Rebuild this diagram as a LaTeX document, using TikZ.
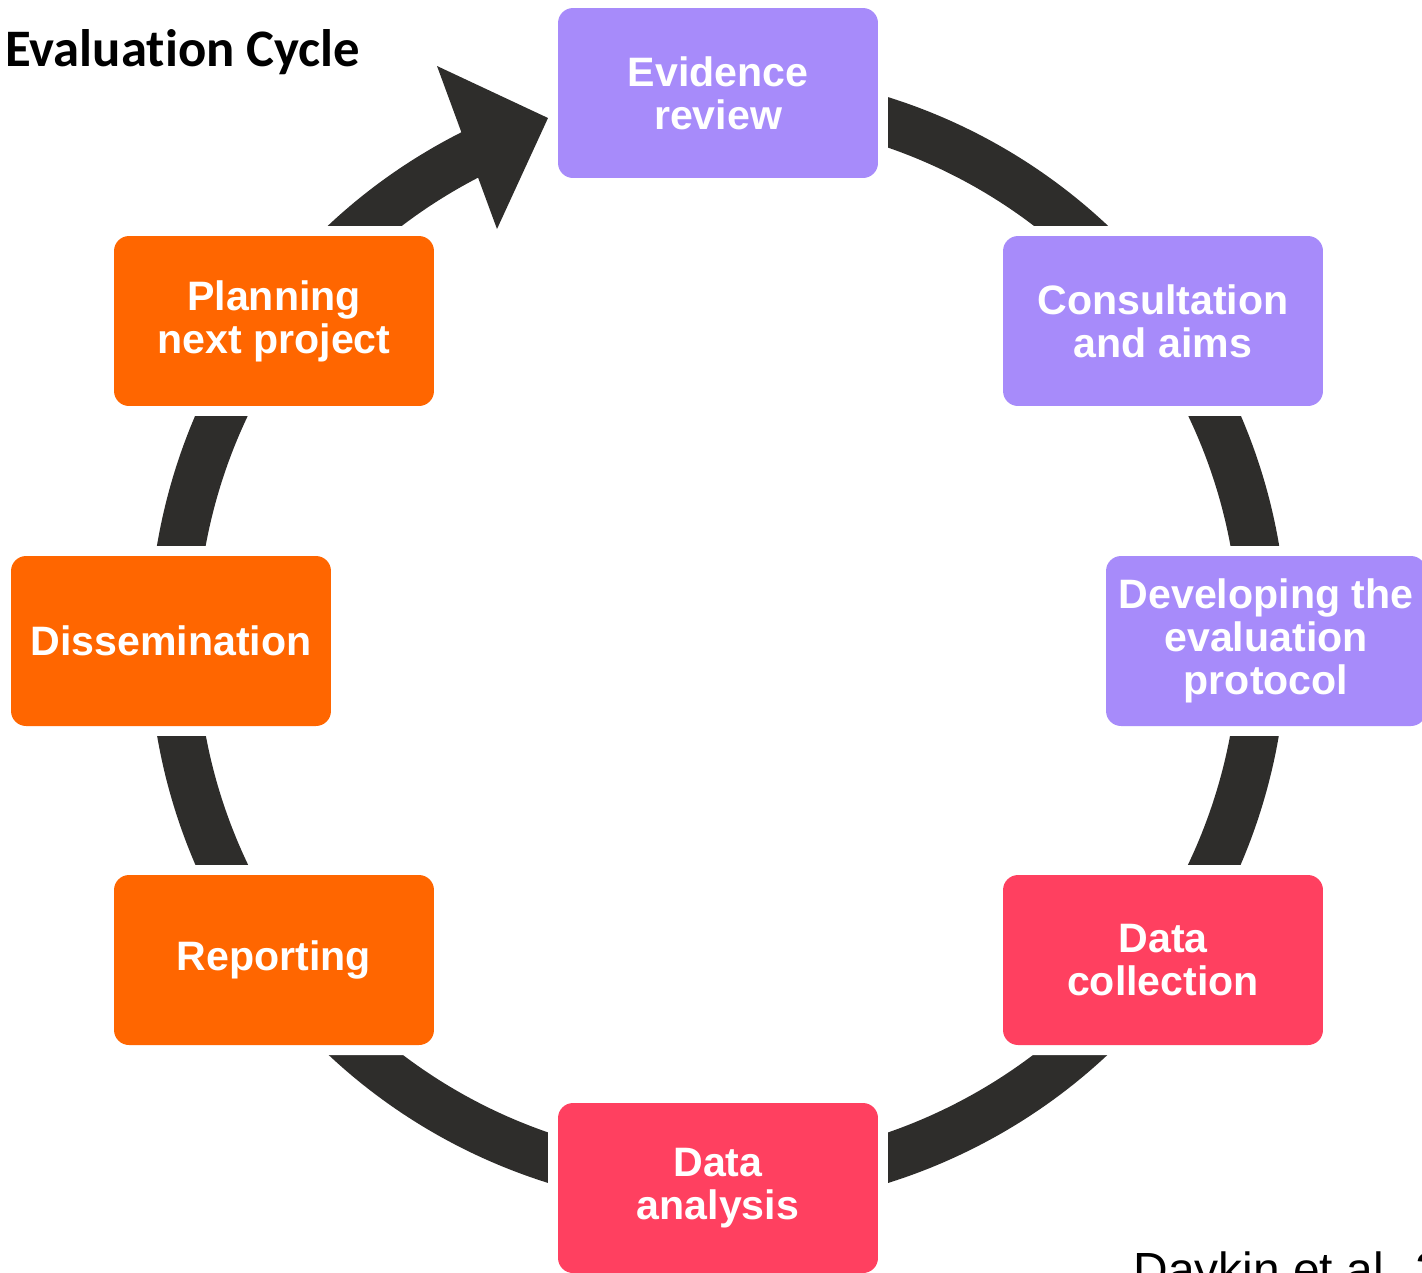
\documentclass[tikz,border=0pt]{standalone}
\usepackage{fontspec}
\setmainfont{Liberation Sans}
\newfontfamily\titlefont[Ligatures=NoCommon]{Carlito}
\definecolor{ringcol}{HTML}{2E2D2B}
\definecolor{violet}{HTML}{A78BFA}
\definecolor{orangebox}{HTML}{FF6600}
\definecolor{redbox}{HTML}{FF4060}
\begin{document}
\begin{tikzpicture}[x=0.02cm,y=0.02cm,
  stagebox/.style={rounded corners=0.3cm, minimum width=6.4cm, minimum height=3.4cm,
    inner sep=0pt, text=white, align=center,
    font=\bfseries\fontsize{23.4}{24.4}\selectfont,
    preaction={draw=white, line width=0.4cm}},
  ringline/.style={draw=ringcol, line width=0.96cm, line cap=butt}]
\useasboundingbox (0,0) rectangle (1422,-1272);
\clip (0,0) rectangle (1422,-1272);
\coordinate (c) at (718,-640);
% ring
\draw[ringline] ([shift={(116:10.9cm)}]c) arc[start angle=116, end angle=452, radius=10.9cm];
% arrow head
\coordinate (tip) at (548,-118);
\coordinate (hb1) at (437,-66);
\coordinate (hb2) at (497,-229);
\fill[ringcol] (tip) -- (hb1) -- (hb2) -- cycle;
% boxes
\node[stagebox, fill=violet] (ev) at (718,-93) {Evidence\\review};
\node[stagebox, fill=violet] (co) at (1163,-321) {Consultation\\and aims};
\node[stagebox, fill=violet] (de) at (1266,-641) {Developing the\\evaluation\\protocol};
\node[stagebox, fill=redbox] (dc) at (1163,-960) {Data\\collection};
\node[stagebox, fill=redbox] (da) at (718,-1188) {Data\\analysis};
\node[stagebox, fill=orangebox] (re) at (274,-960) {Reporting};
\node[stagebox, fill=orangebox] (di) at (171,-641) {Dissemination};
\node[stagebox, fill=orangebox] (pl) at (274,-321) {Planning\\next project};
% title and source
\node[anchor=base west, inner sep=0pt, font=\titlefont\bfseries\fontsize{30}{32}\selectfont] (title) at (5,-66) {Evaluation Cycle};
\node[anchor=base west, inner sep=0pt, font=\fontsize{27.3}{30}\selectfont] (src) at (1133,-1286) {Daykin et al. 2};
\end{tikzpicture}
\end{document}
